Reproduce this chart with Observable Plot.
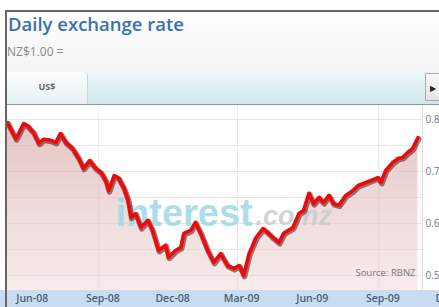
<!DOCTYPE html>
<html>
<head>
<meta charset="utf-8">
<script src="https://cdn.jsdelivr.net/npm/d3@7"></script>
<script src="https://cdn.jsdelivr.net/npm/@observablehq/plot@0.6"></script>
<style>
  html, body { margin: 0; padding: 0; background: #fff; }
  #wrap { position: relative; width: 439px; height: 307px; overflow: hidden; background: #fff; font-family: "Open Sans", sans-serif; }
  #frame { position: absolute; left: 5px; top: 10px; width: 460px; height: 320px; border-left: 2px solid #666; border-top: 2px solid #666; z-index: 5; pointer-events: none; }
  #header { position: absolute; left: 7px; top: 12px; width: 432px; height: 60px; background: linear-gradient(#ffffff, #f3f4f4); }
  #title { position: absolute; left: 8px; top: 11px; font-size: 18.5px; font-weight: 600; color: #3a70ad; white-space: nowrap; }
  #subtitle { position: absolute; left: 7px; top: 43px; font-size: 12px; color: #8a8a8a; white-space: nowrap; }
  #tabband { position: absolute; left: 7px; top: 72px; width: 432px; height: 32px; background: linear-gradient(#eef7f8, #cfe7ec); border-bottom: 1.5px solid #8a9a9e; }
  #tab { position: absolute; left: 7px; top: 72px; width: 80px; height: 32px; background: linear-gradient(#fbfdfd, #e6f1f3); border-right: 1px solid #c3d9de; border-top-right-radius: 4px; }
  #tab span { position: absolute; left: 0; width: 100%; top: 8px; text-align: center; font-size: 9px; font-weight: 700; color: #666; }
  #btn { position: absolute; left: 425px; top: 73px; width: 16px; height: 28px; background: linear-gradient(#fafafa, #e4e4e4); border: 1px solid #aaa; box-sizing: border-box; }
  #btn span { position: absolute; left: 4px; top: 8px; font-size: 8px; color: #222; }
  #chart { position: absolute; left: 0; top: 105px; }
</style>
</head>
<body>
<div id="wrap">
  <div id="header"></div>
  <div id="title">Daily exchange rate</div>
  <div id="subtitle">NZ$1.00 =</div>
  <div id="tabband"></div>
  <div id="tab"><span>US$</span></div>
  <div id="btn"><span>▶</span></div>
  <div id="chart"></div>
  <div id="frame"></div>
</div>
<script>
// Data (NZD/USD, RBNZ)
const dates = [
  "2008-05-05","2008-05-16","2008-05-26","2008-05-31","2008-06-08","2008-06-15","2008-06-21","2008-06-30",
  "2008-07-07","2008-07-13","2008-07-20","2008-07-29","2008-08-06","2008-08-12","2008-08-20","2008-08-28",
  "2008-09-04","2008-09-10","2008-09-14","2008-09-21","2008-09-27","2008-10-04","2008-10-09","2008-10-13",
  "2008-10-19","2008-10-26","2008-11-04","2008-11-10","2008-11-18","2008-11-27","2008-12-01","2008-12-10",
  "2008-12-17","2008-12-21","2008-12-30","2009-01-05","2009-01-12","2009-01-21","2009-01-29","2009-02-07",
  "2009-02-16","2009-02-24","2009-03-03","2009-03-09","2009-03-16","2009-03-25","2009-04-03","2009-04-09",
  "2009-04-16","2009-04-24","2009-04-30","2009-05-12","2009-05-20","2009-05-26","2009-06-02","2009-06-08",
  "2009-06-15","2009-06-21","2009-06-28","2009-07-04","2009-07-11","2009-07-20","2009-07-29","2009-08-05",
  "2009-08-12","2009-08-22","2009-08-31","2009-09-04","2009-09-10","2009-09-19","2009-09-26","2009-10-02",
  "2009-10-09","2009-10-15","2009-10-22"
];
const rates = [
  0.794,0.763,0.792,0.788,0.775,0.754,0.762,0.760,
  0.756,0.773,0.756,0.744,0.725,0.706,0.721,0.706,
  0.698,0.683,0.663,0.692,0.687,0.667,0.646,0.612,
  0.619,0.592,0.606,0.587,0.548,0.558,0.535,0.548,
  0.554,0.581,0.587,0.602,0.581,0.548,0.525,0.542,
  0.519,0.513,0.519,0.500,0.542,0.573,0.590,0.583,
  0.573,0.563,0.581,0.592,0.619,0.625,0.658,0.638,
  0.650,0.640,0.654,0.638,0.635,0.654,0.663,0.673,
  0.677,0.683,0.688,0.679,0.702,0.717,0.725,0.727,
  0.737,0.744,0.765
];
const xTickDates = ["2008-06-01","2008-09-01","2008-12-01","2009-03-01","2009-06-01","2009-09-01","2009-12-01"];
const xTickLabels = ["Jun-08","Sep-08","Dec-08","Mar-09","Jun-09","Sep-09","Dec-09"];
const vGridDates = ["2008-09-01","2009-03-01","2009-09-01"];
const yTicks = [0.5, 0.6, 0.7, 0.8];
const yGrid = [0.5, 0.55, 0.6, 0.65, 0.7, 0.75, 0.8];
const xDomain = ["2008-05-05", "2009-10-28"];
const yDomain = [0.471, 0.827];

const data = dates.map((d, i) => ({date: new Date(d), rate: rates[i]}));
const ticks = xTickDates.map((d, i) => ({date: new Date(d), label: xTickLabels[i]}));
const yMin = yDomain[0];

const chart = Plot.plot({
  width: 439,
  height: 202,
  marginLeft: 7,
  marginRight: 17,
  marginTop: 0,
  marginBottom: 17,
  style: {
    background: "linear-gradient(to bottom, #ffffff 0px, #ffffff 185px, #cadcf1 185px, #cadcf1 202px)",
    fontFamily: "Open Sans, sans-serif",
    overflow: "visible"
  },
  x: {type: "time", domain: xDomain.map(d => new Date(d)), axis: null},
  y: {domain: yDomain, axis: null},
  marks: [
    Plot.ruleY(yGrid, {stroke: "#e6e6e6", strokeWidth: 1}),
    Plot.ruleX(vGridDates.map(d => new Date(d)), {stroke: "#e6e6e6", strokeWidth: 1}),
    Plot.frame({anchor: "right", stroke: "#dddddd"}),
    Plot.areaY(data, {x: "date", y1: d => yMin, y2: "rate", fill: "url(#pinkfill)"}),
    Plot.text(["interest"], {frameAnchor: "top-left", textAnchor: "start", lineAnchor: "middle", dx: 108, dy: 108, fontSize: 38, fontWeight: 700, fontFamily: "Liberation Sans, Arial, sans-serif", fill: "#9fd9e8", fillOpacity: 0.9}),
    Plot.text([".co.nz"], {frameAnchor: "top-left", textAnchor: "start", lineAnchor: "middle", dx: 248, dy: 111, fontSize: 27, fontWeight: 700, fontStyle: "italic", fontFamily: "Liberation Sans, Arial, sans-serif", fill: "#cccccc", fillOpacity: 0.85}),
    Plot.line(data, {x: "date", y: "rate", stroke: "#5a0f0f", strokeWidth: 5.5, strokeOpacity: 0.55, dx: 0.8, dy: 1.2, strokeLinejoin: "round"}),
    Plot.line(data, {x: "date", y: "rate", stroke: "#ee0a0a", strokeWidth: 3.6, strokeLinejoin: "round", strokeLinecap: "round"}),
    Plot.text(["Source: RBNZ"], {frameAnchor: "bottom-right", textAnchor: "end", lineAnchor: "middle", dx: -7, dy: -18, fontSize: 9.5, fill: "#777"}),
    Plot.text(ticks, {x: "date", text: "label", frameAnchor: "bottom", lineAnchor: "middle", dx: 4, dy: 8.5, fontSize: 10.5, fontWeight: 600, fill: "#4d5d7a"}),
    Plot.axisY(yTicks, {anchor: "right", tickSize: 0, tickPadding: 3, tickFormat: d => d.toFixed(1), fontSize: 10, fill: "#7a7a7a", label: null})
  ]
});

d3.select(chart).insert("defs", ":first-child").html(
  '<linearGradient id="pinkfill" gradientUnits="userSpaceOnUse" x1="0" y1="10" x2="0" y2="185">' +
  '<stop offset="0" stop-color="#dcaeae" stop-opacity="0.75"/>' +
  '<stop offset="1" stop-color="#ecd2d2" stop-opacity="0.45"/>' +
  '</linearGradient>'
);
document.getElementById("chart").appendChild(chart);
</script>
</body>
</html>
